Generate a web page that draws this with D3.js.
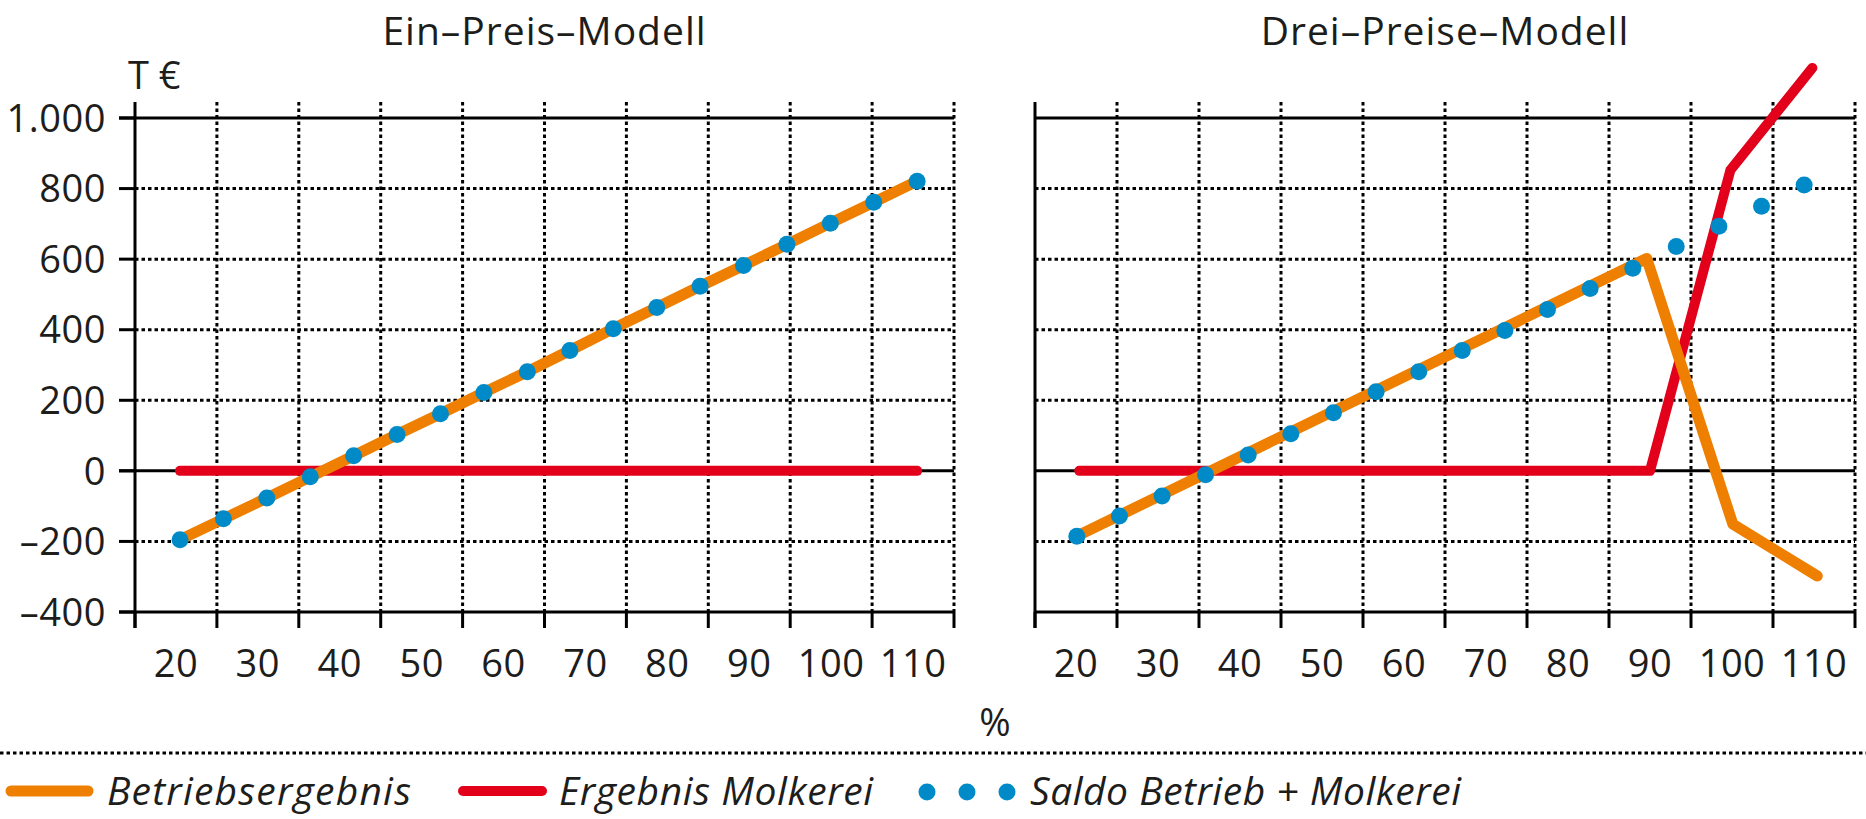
<!DOCTYPE html>
<html>
<head>
<meta charset="utf-8">
<script src="https://cdn.jsdelivr.net/npm/d3@7"></script>
<style>
	body { margin: 0; background: #fff; }
	text { font-family: "Open Sans", sans-serif; fill: #1d1d1b; }
</style>
</head>
<body>
<svg id="chart" width="1866" height="819"></svg>
<script>
// ticks
var xTicks = [20, 30, 40, 50, 60, 70, 80, 90, 100, 110];
var xGrid = [15, 25, 35, 45, 55, 65, 75, 85, 95, 105, 115];
var yTicks = [-400, -200, 0, 200, 400, 600, 800, 1000];
var ySolid = [-400, 0, 1000];

// Ein-Preis-Modell
var einX = [20.5, 25.8, 31.1, 36.4, 41.7, 47.0, 52.3, 57.6, 62.9, 68.1, 73.4, 78.7, 84.0, 89.3, 94.6, 99.9, 105.2, 110.5];
var einBetrieb = [-195, -136, -77, -17, 43, 103, 162, 222, 281, 341, 403, 463, 523, 582, 642, 702, 761, 821];
var einMolkerei = [0, 0, 0, 0, 0, 0, 0, 0, 0, 0, 0, 0, 0, 0, 0, 0, 0, 0];
var einSaldo = [-195, -136, -77, -17, 43, 103, 162, 222, 281, 341, 403, 463, 523, 582, 642, 702, 761, 821];

// Drei-Preise-Modell
var dreiX = [20.1, 25.3, 30.5, 35.8, 41.0, 46.2, 51.4, 56.6, 61.8, 67.1, 72.3, 77.5, 82.7, 87.9, 93.2, 98.4, 103.6, 108.8];
var dreiSaldo = [-185, -128, -71, -11, 45, 105, 165, 224, 281, 341, 398, 457, 517, 574, 636, 693, 750, 810];
var dreiBetriebX = [20.1, 89.6, 100.1, 110.4];
var dreiBetrieb = [-185, 602, -151, -298];
var dreiMolkereiX = [20.4, 90.0, 99.8, 109.8];
var dreiMolkerei = [0, 0, 852, 1142];

// legend
var legendLabels = ["Betriebsergebnis", "Ergebnis Molkerei", "Saldo Betrieb + Molkerei"];

var orange = "#ee7f00", red = "#e2001a", blue = "#008bc8";
var fontSize = 38, bigFont = 39;

var svg = d3.select("#chart");
var de = d3.formatLocale({decimal: ",", thousands: ".", grouping: [3], currency: ["", " €"], minus: "\u2013"});
var fmt = de.format(",d");

var y = d3.scaleLinear().domain([-400, 1000]).range([612, 118]);
var gridTop = 102, tickLen = 16;

function zip(xs, ys) {
	return xs.map(function (v, i) { return [v, ys[i]]; });
}

function drawPanel(x0, x1, title, series, withYAxis) {
	var x = d3.scaleLinear().domain([15, 115]).range([x0, x1]);
	var g = svg.append("g");

	// --- GRID --- \\
	g.selectAll(".vgrid").data(xGrid.slice(1)).enter().append("line")
		.attr("x1", x).attr("x2", x)
		.attr("y1", gridTop).attr("y2", y(-400))
		.attr("stroke", "#000").attr("stroke-width", 3)
		.attr("stroke-dasharray", "3.5 3");

	g.selectAll(".hgrid").data(yTicks.filter(function (d) { return ySolid.indexOf(d) < 0; })).enter().append("line")
		.attr("x1", x0).attr("x2", x1)
		.attr("y1", y).attr("y2", y)
		.attr("stroke", "#000").attr("stroke-width", 3)
		.attr("stroke-dasharray", "3.5 3");

	g.selectAll(".hsolid").data(ySolid).enter().append("line")
		.attr("x1", withYAxis ? x0 - tickLen : x0).attr("x2", x1)
		.attr("y1", y).attr("y2", y)
		.attr("stroke", "#000").attr("stroke-width", 3);

	// x ticks below the axis
	g.selectAll(".xtick").data(xGrid).enter().append("line")
		.attr("x1", x).attr("x2", x)
		.attr("y1", y(-400)).attr("y2", y(-400) + tickLen)
		.attr("stroke", "#000").attr("stroke-width", 3);

	// y axis line
	g.append("line")
		.attr("x1", x0).attr("x2", x0)
		.attr("y1", gridTop).attr("y2", y(-400) + tickLen)
		.attr("stroke", "#000").attr("stroke-width", 3);

	if (withYAxis) {
		g.selectAll(".ytick").data(yTicks).enter().append("line")
			.attr("x1", x0 - tickLen).attr("x2", x0)
			.attr("y1", y).attr("y2", y)
			.attr("stroke", "#000").attr("stroke-width", 3);
		g.selectAll(".ylab").data(yTicks).enter().append("text")
			.attr("x", x0 - tickLen - 13).attr("y", y)
			.attr("dy", "0.36em")
			.attr("text-anchor", "end")
			.style("font-size", fontSize + "px")
			.style("letter-spacing", "0.5px")
			.text(fmt);
		g.append("text")
			.attr("x", x0 - 7).attr("y", 89)
			.style("font-size", fontSize + "px")
			.text("T €");
	}

	g.selectAll(".xlab").data(xTicks).enter().append("text")
		.attr("x", x).attr("y", 677)
		.attr("text-anchor", "middle")
		.style("font-size", fontSize + "px")
		.style("letter-spacing", "0.5px")
		.text(function (d) { return d; });

	g.append("text")
		.attr("x", (x0 + x1) / 2).attr("y", 45)
		.attr("text-anchor", "middle")
		.style("font-size", bigFont + "px")
		.style("letter-spacing", "1px")
		.text(title);

	// --- SERIES --- \\
	var line = d3.line().x(function (d) { return x(d[0]); }).y(function (d) { return y(d[1]); });

	g.append("path").datum(series.molkerei)
		.attr("d", line).attr("fill", "none")
		.attr("stroke", red).attr("stroke-width", 10)
		.attr("stroke-linecap", "round").attr("stroke-linejoin", "round");

	g.append("path").datum(series.betrieb)
		.attr("d", line).attr("fill", "none")
		.attr("stroke", orange).attr("stroke-width", 11)
		.attr("stroke-linecap", "round").attr("stroke-linejoin", "round");

	g.selectAll(".dot").data(series.saldo).enter().append("circle")
		.attr("cx", function (d) { return x(d[0]); })
		.attr("cy", function (d) { return y(d[1]); })
		.attr("r", 8.5)
		.attr("fill", blue);
}

drawPanel(135, 954, "Ein\u2013Preis\u2013Modell", {
	betrieb: zip(einX, einBetrieb),
	molkerei: zip(einX, einMolkerei),
	saldo: zip(einX, einSaldo)
}, true);

drawPanel(1035, 1855, "Drei\u2013Preise\u2013Modell", {
	betrieb: zip(dreiBetriebX, dreiBetrieb),
	molkerei: zip(dreiMolkereiX, dreiMolkerei),
	saldo: zip(dreiX, dreiSaldo)
}, false);

svg.append("text")
	.attr("x", 995).attr("y", 736)
	.attr("text-anchor", "middle")
	.style("font-size", fontSize + "px")
	.text("%");

// --- LEGEND --- \\
svg.append("line")
	.attr("x1", 0).attr("x2", 1866).attr("y1", 753).attr("y2", 753)
	.attr("stroke", "#000").attr("stroke-width", 3)
	.attr("stroke-dasharray", "3.5 3");

var legendY = 791;
var lg = svg.append("g");
function legendText(xPos, label, width) {
	lg.append("text").attr("x", xPos).attr("y", 805)
		.attr("textLength", width).attr("lengthAdjust", "spacing")
		.style("font-size", bigFont + "px").style("font-style", "italic")
		.text(label);
}
lg.append("line").attr("x1", 11).attr("x2", 88).attr("y1", legendY).attr("y2", legendY)
	.attr("stroke", orange).attr("stroke-width", 11).attr("stroke-linecap", "round");
legendText(107, legendLabels[0], 304);
lg.append("line").attr("x1", 463).attr("x2", 542).attr("y1", legendY).attr("y2", legendY)
	.attr("stroke", red).attr("stroke-width", 10).attr("stroke-linecap", "round");
legendText(559, legendLabels[1], 314);
lg.selectAll(".ldot").data([927, 967, 1007]).enter().append("circle")
	.attr("cx", function (d) { return d; }).attr("cy", legendY + 1).attr("r", 8.5).attr("fill", blue);
legendText(1030, legendLabels[2], 431);
</script>
</body>
</html>
